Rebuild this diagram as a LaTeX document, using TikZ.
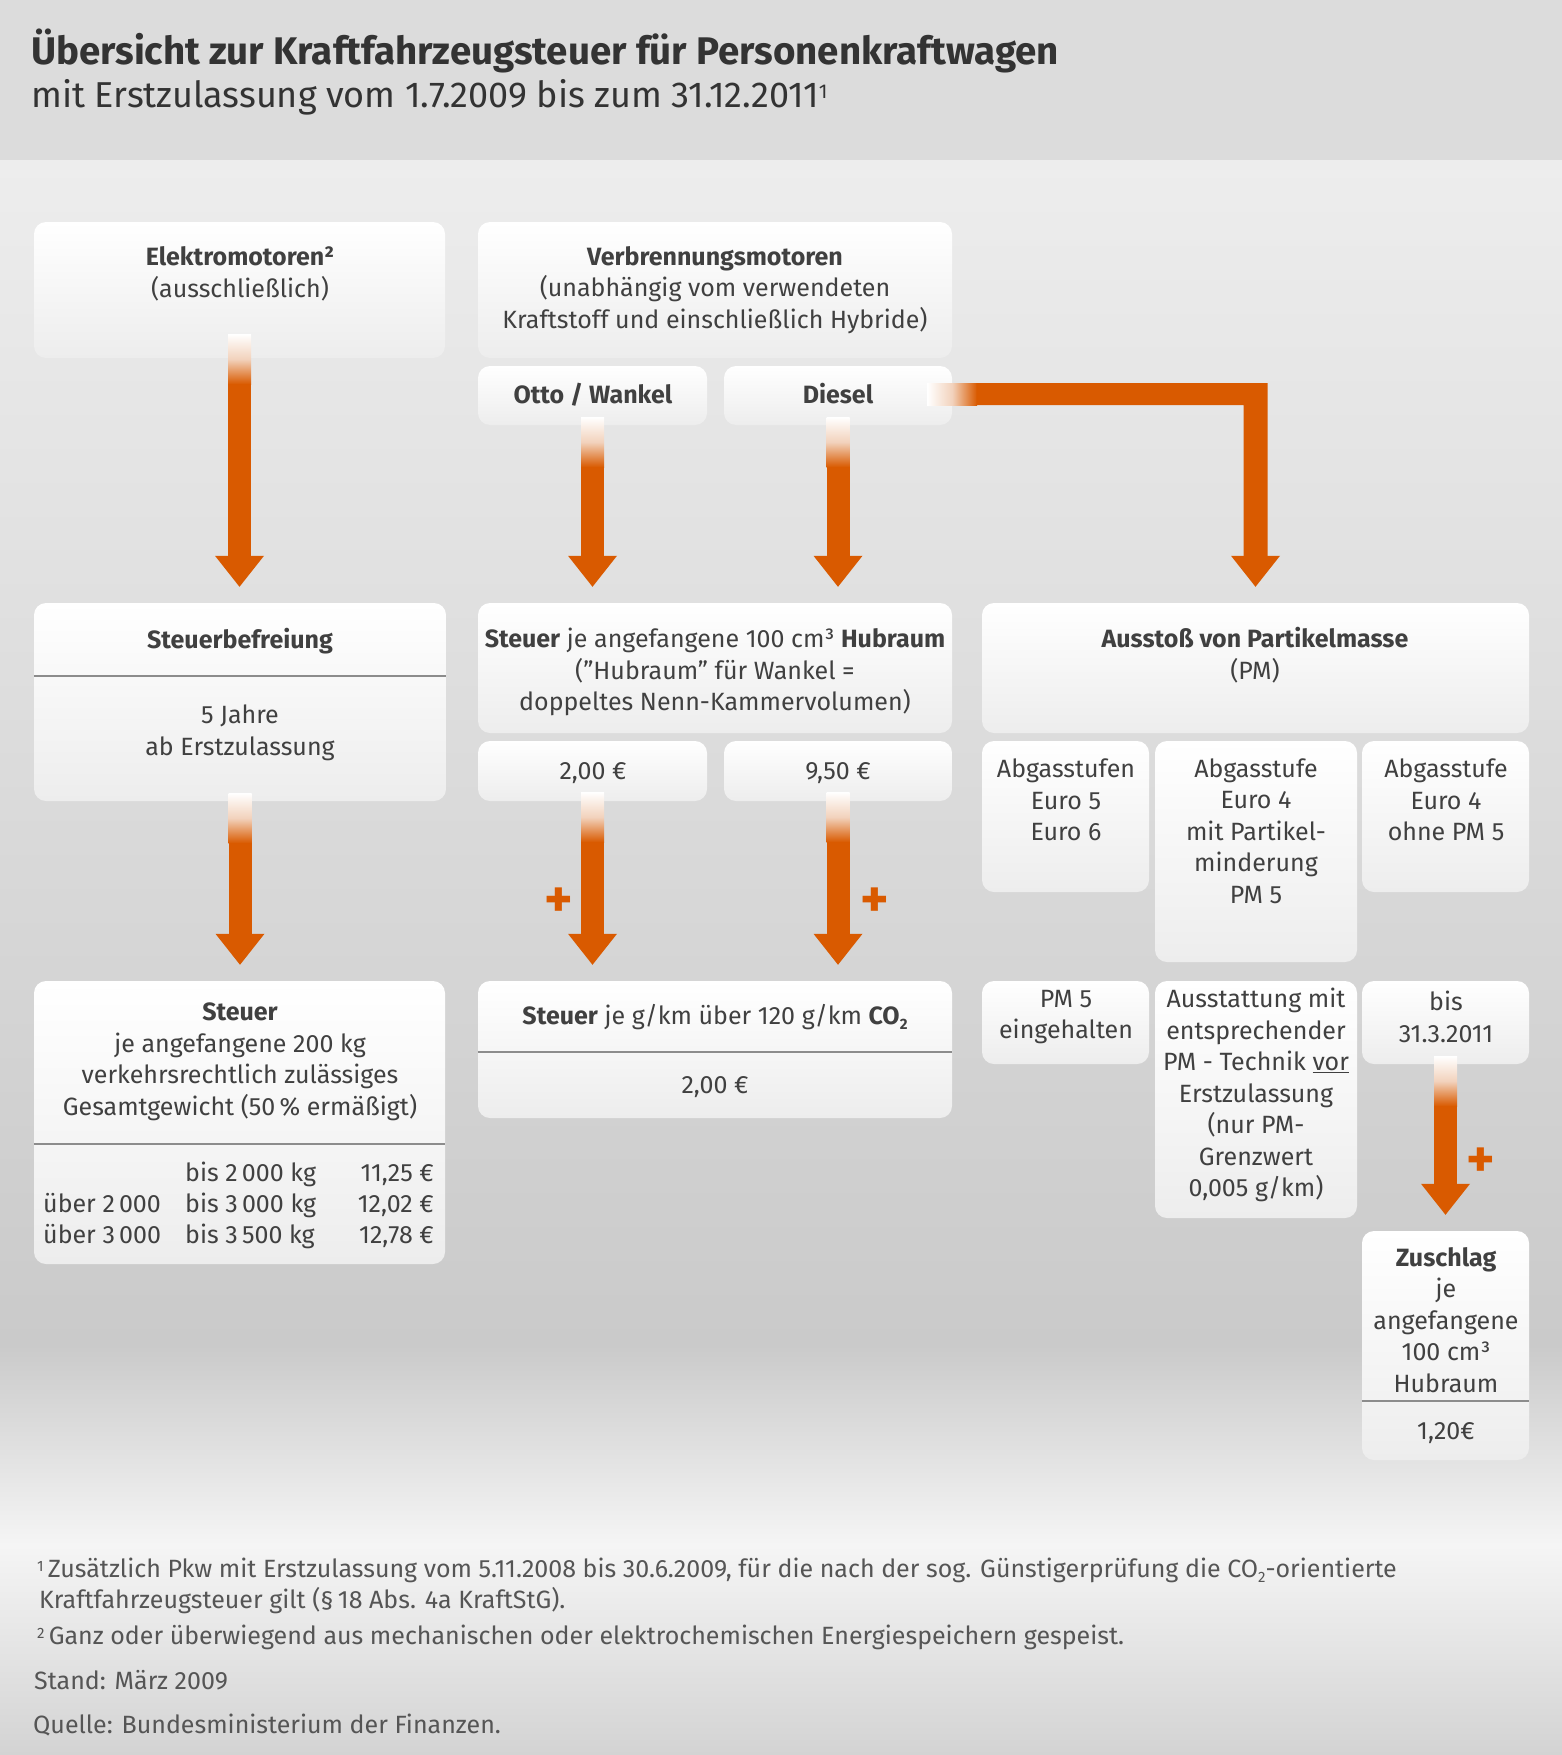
\documentclass[tikz,border=0pt]{standalone}
\usepackage{fontspec}
\setmainfont{Fira Sans}
\usetikzlibrary{calc}
\definecolor{org}{HTML}{D95A00}
\definecolor{orgpale}{HTML}{F2D2BC}
\definecolor{txtc}{HTML}{404040}
\definecolor{titc}{HTML}{333333}
\definecolor{footc}{HTML}{555555}
\definecolor{boxbot}{HTML}{EDEDED}
\definecolor{hdr}{HTML}{DCDCDC}
\definecolor{bgA}{HTML}{EDEDED}
\definecolor{bgB}{HTML}{CACACA}
\definecolor{bgC}{HTML}{F5F5F5}
\definecolor{bgD}{HTML}{D3D3D3}
\definecolor{divc}{HTML}{8C8C8C}
\newcommand\bodysize{\fontsize{25}{31.5}\selectfont}
\newcommand\footsize{\fontsize{25}{31}\selectfont}
\newcommand\subtwo{\raisebox{-0.4ex}{\fontsize{15}{15}\selectfont 2}}
\tikzset{
  panel/.style={rectangle, rounded corners=12pt, top color=white, bottom color=boxbot, inner sep=0pt, draw=none},
  lbl/.style={text=txtc, align=center, inner sep=0pt, font=\bodysize},
  foot/.style={text=footc, inner sep=0pt, font=\footsize, anchor=base west},
  divline/.style={draw=divc, line width=1.3pt},
  plussign/.style={text=org, inner sep=0pt, font=\fontsize{54}{54}\selectfont\bfseries},
}
% orange arrow from node #1 (south) to node #2 (north); #3 = start inside source
\newcommand\darrow[3]{%
  \shade[top color=white, bottom color=org, middle color=orgpale] let \p1=(#1.south) in
    (\x1-11.5pt,\y1+#3) rectangle (\x1+11.5pt,\y1+#3-50pt);
  \fill[org] let \p1=(#1.south), \p2=(#2.north) in
    (\x1-11.5pt,\y1+#3-50pt) rectangle (\x1+11.5pt,\y2+46pt);
  \fill[org] let \p1=(#1.south), \p2=(#2.north) in
    (\x1-24.5pt,\y2+47pt) -- (\x1+24.5pt,\y2+47pt) -- (\x1,\y2+16pt) -- cycle;
}
\begin{document}
\begin{tikzpicture}[x=1pt,y=-1pt]
\useasboundingbox (0,0) rectangle (1562,1755);
% background
\fill[hdr] (0,0) rectangle (1562,161);
\shade[top color=bgA, bottom color=bgB] (0,161) rectangle (1562,1345);
\shade[top color=bgB, bottom color=bgC] (0,1345) rectangle (1562,1545);
\shade[top color=bgC, bottom color=bgD] (0,1545) rectangle (1562,1755);

% title
\node[text=titc, inner sep=0pt, anchor=base west, font=\fontsize{38.5}{44}\selectfont\bfseries] (title) at (31,65) {Übersicht zur Kraftfahrzeugsteuer für Personenkraftwagen};
\node[text=titc, inner sep=0pt, anchor=base west, font=\fontsize{36}{42}\selectfont] (subtitle) at (31,108) {mit Erstzulassung vom 1.7.2009 bis zum 31.12.2011\raisebox{0.5ex}{\fontsize{20}{20}\selectfont 1}};

% boxes
\node[panel, minimum width=411pt, minimum height=136pt] (elek) at (239.5,290) {};
\node[panel, minimum width=474pt, minimum height=136pt] (verb) at (715,290) {};
\node[panel, minimum width=229pt, minimum height=59pt] (otto) at (592.5,395.5) {};
\node[panel, minimum width=228pt, minimum height=59pt] (diesel) at (838,395.5) {};
\node[panel, minimum width=412pt, minimum height=198pt] (befr) at (240,702) {};
\node[panel, minimum width=474pt, minimum height=130pt] (hub) at (715,668) {};
\node[panel, minimum width=229pt, minimum height=60pt] (p200) at (592.5,771) {};
\node[panel, minimum width=228pt, minimum height=60pt] (p950) at (838,771) {};
\node[panel, minimum width=547pt, minimum height=130pt] (pm) at (1255.5,668) {};
\node[panel, minimum width=167pt, minimum height=151pt] (eu56) at (1065.5,816.5) {};
\node[panel, minimum width=202pt, minimum height=221pt] (eu4m) at (1256,851.5) {};
\node[panel, minimum width=167pt, minimum height=151pt] (eu4o) at (1445.5,816.5) {};
\node[panel, minimum width=411pt, minimum height=283pt] (gew) at (239.5,1122.5) {};
\node[panel, minimum width=474pt, minimum height=137pt] (co2) at (715,1049.5) {};
\node[panel, minimum width=167pt, minimum height=83pt] (pm5) at (1065.5,1022.5) {};
\node[panel, minimum width=202pt, minimum height=237pt] (ausst) at (1256,1099.5) {};
\node[panel, minimum width=167pt, minimum height=83pt] (bis) at (1445.5,1022.5) {};
\node[panel, minimum width=167pt, minimum height=229pt] (zus) at (1445.5,1345.5) {};

% dividers
\draw[divline] (befr.west |- 0,676) -- (befr.east |- 0,676);
\draw[divline] (gew.west |- 0,1144) -- (gew.east |- 0,1144);
\draw[divline] (co2.west |- 0,1052) -- (co2.east |- 0,1052);
\draw[divline] (zus.west |- 0,1401) -- (zus.east |- 0,1401);

% arrows
\darrow{elek}{befr}{24pt}
\darrow{otto}{hub}{8pt}
\darrow{diesel}{hub}{8pt}
\darrow{befr}{gew}{8pt}
\darrow{p200}{co2}{9pt}
\darrow{p950}{co2}{9pt}
\darrow{bis}{zus}{8pt}
% Diesel -> Partikelmasse
\shade[left color=white, right color=org, middle color=orgpale] let \p1=(diesel.east) in
  (\x1-25pt,\y1+12.5pt) rectangle (\x1+25pt,\y1-9.5pt);
\fill[org] let \p1=(diesel.east), \p2=(pm.north) in
  (\x1+24.5pt,\y1+12.5pt) -- (\x2+12pt,\y1+12.5pt) -- (\x2+12pt,\y2+46pt)
  -- (\x2-12pt,\y2+46pt) -- (\x2-12pt,\y1-9.5pt) -- (\x1+24.5pt,\y1-9.5pt) -- cycle;
\fill[org] let \p2=(pm.north) in
  (\x2-24.5pt,\y2+47pt) -- (\x2+24.5pt,\y2+47pt) -- (\x2,\y2+16pt) -- cycle;

% plus signs
\node[plussign] (plusA) at (559,903) {+};
\node[plussign] (plusB) at (875,903) {+};
\node[plussign] (plusC) at (1481,1163) {+};

% texts
\node[lbl] (telek) at (240,274) {\textbf{Elektromotoren²}\\(ausschließlich)};
\node[lbl] (tverb) at (715,290) {\textbf{Verbrennungsmotoren}\\(unabhängig vom verwendeten\\Kraftstoff und einschließlich Hybride)};
\node[lbl, anchor=base] (totto) at (593,403) {\textbf{Otto / Wankel}};
\node[lbl, anchor=base] (tdiesel) at (838,403) {\textbf{Diesel}};
\node[lbl, anchor=base] (tbefr) at (240,648) {\textbf{Steuerbefreiung}};
\node[lbl] (tbefrb) at (240,733) {5 Jahre\\ab Erstzulassung};
\node[lbl] (thub) at (715,672) {\textbf{Steuer} je angefangene 100 cm³ \textbf{Hubraum}\\(”Hubraum” für Wankel =\\doppeltes Nenn-Kammervolumen)};
\node[lbl, anchor=base] (tp200) at (593,779) {2,00 €};
\node[lbl, anchor=base] (tp950) at (838,779) {9,50 €};
\node[lbl] (tpm) at (1255,655) {\textbf{Ausstoß von Partikelmasse}\\(PM)};
\node[lbl] (teu56) at (1066,800) {Abgasstufen\\Euro 5\\Euro 6};
\node[lbl] (teu4m) at (1256,831) {Abgasstufe\\Euro 4\\mit Partikel-\\minderung\\PM 5};
\node[lbl] (teu4o) at (1446,800) {Abgasstufe\\Euro 4\\ohne PM 5};
\node[lbl] (tgew) at (240,1062) {\textbf{Steuer}\\je angefangene 200 kg\\verkehrsrechtlich zulässiges\\Gesamtgewicht (50\,\% ermäßigt)};
\node[lbl, anchor=base west] (r1b) at (185,1181) {bis 2\,000 kg};
\node[lbl, anchor=base east] (r1c) at (434,1181) {11,25 €};
\node[lbl, anchor=base west] (r2a) at (43,1212) {über 2\,000};
\node[lbl, anchor=base west] (r2b) at (185,1212) {bis 3\,000 kg};
\node[lbl, anchor=base east] (r2c) at (434,1212) {12,02 €};
\node[lbl, anchor=base west] (r3a) at (43,1243) {über 3\,000};
\node[lbl, anchor=base west] (r3b) at (185,1243) {bis 3\,500 kg};
\node[lbl, anchor=base east] (r3c) at (434,1243) {12,78 €};
\node[lbl, anchor=base] (tco2) at (715,1024) {\textbf{Steuer} je g/km über 120 g/km \textbf{CO\subtwo}};
\node[lbl, anchor=base] (tco2b) at (715,1093) {2,00 €};
\node[lbl] (tpm5) at (1066,1017) {PM 5\\eingehalten};
\node[lbl] (tausst) at (1256,1095) {Ausstattung mit\\entsprechender\\PM - Technik \underline{vor}\\Erstzulassung\\(nur PM-\\Grenzwert\\0,005 g/km)};
\node[lbl] (tbis) at (1446,1017) {bis\\31.3.2011};
\node[lbl] (tzus) at (1446,1320) {\textbf{Zuschlag}\\je\\angefangene\\100 cm³\\Hubraum};
\node[lbl, anchor=base] (tzusb) at (1446,1439) {1,20€};

% footer
\node[foot] (f1a) at (37,1577) {\raisebox{0.45ex}{\fontsize{15}{15}\selectfont 1}\,Zusätzlich Pkw mit Erstzulassung vom 5.11.2008 bis 30.6.2009, für die nach der sog. Günstigerprüfung die CO\subtwo-orientierte};
\node[foot] (f1b) at (39,1608) {Kraftfahrzeugsteuer gilt (§\,18 Abs. 4a KraftStG).};
\node[foot] (f2) at (37,1644) {\raisebox{0.45ex}{\fontsize{15}{15}\selectfont 2}\,Ganz oder überwiegend aus mechanischen oder elektrochemischen Energiespeichern gespeist.};
\node[foot] (fstand) at (34,1689) {Stand: März 2009};
\node[foot] (fquelle) at (33,1733) {Quelle: Bundesministerium der Finanzen.};
\end{tikzpicture}
\end{document}
